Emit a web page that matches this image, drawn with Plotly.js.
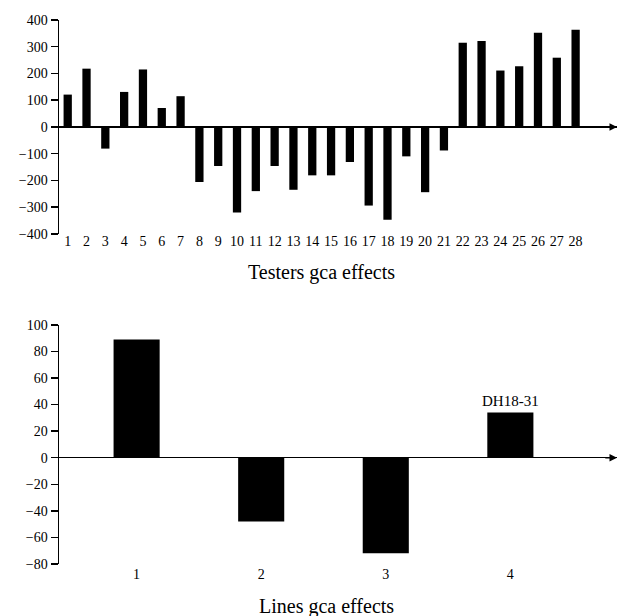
<!DOCTYPE html>
<html><head><meta charset="utf-8">
<script src="https://cdn.plot.ly/plotly-3.0.1.min.js"></script>
<style>html,body{margin:0;padding:0;background:#fff}</style>
</head><body>
<div id="chart" style="width:618px;height:616px"></div>
<script>
var testers = [1,2,3,4,5,6,7,8,9,10,11,12,13,14,15,16,17,18,19,20,21,22,23,24,25,26,27,28];
var testerGca = [121,218,-81,131,215,71,115,-206,-146,-320,-240,-146,-235,-181,-181,-131,-294,-347,-110,-244,-88,315,321,211,227,352,259,364];
var lines = [1,2,3,4];
var lineGca = [89,-48,-72,34];
var lineLabel = "DH18-31";
var topTitle = "Testers gca effects";
var bottomTitle = "Lines gca effects";

var F = "Liberation Serif, Times New Roman, serif";
var data = [
  {type:'bar', x:testers, y:testerGca, xaxis:'x', yaxis:'y', width:0.44,
   marker:{color:'#000'}, hoverinfo:'x+y'},
  {type:'bar', x:lines, y:lineGca, xaxis:'x2', yaxis:'y2', width:0.37,
   marker:{color:'#000'}, hoverinfo:'x+y'}
];
var yCommon = {showline:true, linecolor:'#000', linewidth:1.5, ticks:'outside', ticklen:7,
  tickcolor:'#000', tickwidth:1.5, showgrid:false, zeroline:true, zerolinecolor:'#000',
  zerolinewidth:1.5, tickfont:{family:F, size:14, color:'#000'}, fixedrange:true};
var layout = {
  width:618, height:616, margin:{l:59, r:1, t:20, b:52},
  paper_bgcolor:'#fff', plot_bgcolor:'#fff', showlegend:false,
  font:{family:F, color:'#000'},
  xaxis:{domain:[0,1], anchor:'y', range:[0.537,30.2], tickmode:'array', tickvals:testers,
    ticktext:testers.map(String), showgrid:false, zeroline:false, showline:false,
    ticks:'', ticklabelstandoff:-3, tickfont:{family:F, size:14, color:'#000'}},
  yaxis:Object.assign({domain:[0.6068,1], anchor:'x', range:[-400,400], dtick:100}, yCommon),
  xaxis2:{domain:[0,1], anchor:'y2', range:[0.377,4.856], tickmode:'array', tickvals:lines,
    ticktext:lines.map(String), showgrid:false, zeroline:false, showline:false,
    ticks:'', ticklabelstandoff:0, tickfont:{family:F, size:14, color:'#000'}},
  yaxis2:Object.assign({domain:[0,0.4397], anchor:'x2', range:[-80,100], dtick:20}, yCommon),
  annotations:[
    {xref:'x', yref:'y', x:30.2, y:0, axref:'x', ayref:'y', ax:29.5, ay:0, showarrow:true,
     arrowhead:2, arrowsize:1, arrowwidth:1.5, arrowcolor:'#000', text:''},
    {xref:'x2', yref:'y2', x:4.856, y:0, axref:'x2', ayref:'y2', ax:4.75, ay:0, showarrow:true,
     arrowhead:2, arrowsize:1, arrowwidth:1.5, arrowcolor:'#000', text:''},
    {xref:'x2', yref:'y2', x:4, y:lineGca[3], yanchor:'bottom', yshift:2, showarrow:false,
     text:lineLabel, font:{family:F, size:15, color:'#000'}},
    {xref:'paper', yref:'paper', x:0.47, y:0.535, yanchor:'middle', showarrow:false,
     text:topTitle, font:{family:F, size:20, color:'#000'}},
    {xref:'paper', yref:'paper', x:0.48, y:-0.0779, yanchor:'middle', showarrow:false,
     text:bottomTitle, font:{family:F, size:20, color:'#000'}}
  ]
};
Plotly.newPlot('chart', data, layout, {displayModeBar:false, staticPlot:true});
</script>
</body></html>
